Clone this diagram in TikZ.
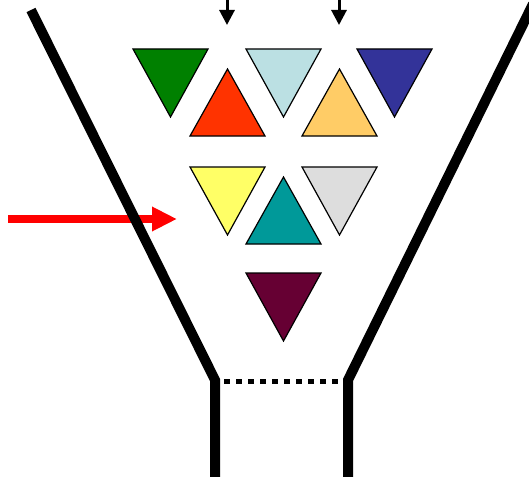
\documentclass[tikz,border=0pt]{standalone}
\usetikzlibrary{arrows.meta}
\definecolor{cgreen}{HTML}{008000}
\definecolor{clblue}{HTML}{BBE0E3}
\definecolor{cnavy}{HTML}{333399}
\definecolor{cred}{HTML}{FF3300}
\definecolor{corange}{HTML}{FFCC66}
\definecolor{cyellow}{HTML}{FFFF66}
\definecolor{cgrey}{HTML}{DDDDDD}
\definecolor{cteal}{HTML}{009999}
\definecolor{cmaroon}{HTML}{660033}
\tikzset{
  tri/.style={draw=black, line width=1.2pt, line join=miter},
  wall/.style={line width=10pt, line join=miter},
  feed/.style={line width=3pt, -{Triangle[length=15pt 0,width=15pt 0]}},
}
\begin{document}
\begin{tikzpicture}[x=1pt,y=-1pt]
\useasboundingbox (0,0) rectangle (529,476);
% red arrow (under the wall)
\coordinate (rs) at (8,219);
\coordinate (rend) at (177,219);
\draw[red, line width=7.5pt, -{Triangle[length=25pt 0,width=23pt 0]}] (rs) -- (rend);
% funnel walls
\coordinate (lt) at (31,10);
\coordinate (lb) at (215,380);
\coordinate (le) at (215,480);
\coordinate (rt) at (533,4);
\coordinate (rb) at (348,380);
\coordinate (re) at (348,480);
\draw[wall] (lt) -- (lb) -- (le);
\draw[wall] (rt) -- (rb) -- (re);
% dotted line
\coordinate (d1) at (224,381);
\coordinate (d2) at (342,381);
\draw[line width=5pt, dash pattern=on 6pt off 6pt] (d1) -- (d2);
% triangles
\newcommand{\dtri}[3]{\path[tri, fill=#1] (#2,#3) -- ++(75,0) -- ++(-37.5,68) -- cycle;}
\newcommand{\utri}[3]{\path[tri, fill=#1] (#2,#3) -- ++(75,0) -- ++(-37.5,-67) -- cycle;}
\dtri{cgreen}{133}{49}
\dtri{clblue}{246}{49}
\dtri{cnavy}{357}{49}
\utri{cred}{190}{136}
\utri{corange}{302}{136}
\dtri{cyellow}{190}{167}
\dtri{cgrey}{302}{167}
\utri{cteal}{246}{244}
\dtri{cmaroon}{246}{273}
% feeding arrows
\coordinate (a1s) at (227,-2);
\coordinate (a1e) at (227,25);
\coordinate (a2s) at (339,-2);
\coordinate (a2e) at (339,25);
\draw[feed] (a1s) -- (a1e);
\draw[feed] (a2s) -- (a2e);
\end{tikzpicture}
\end{document}
